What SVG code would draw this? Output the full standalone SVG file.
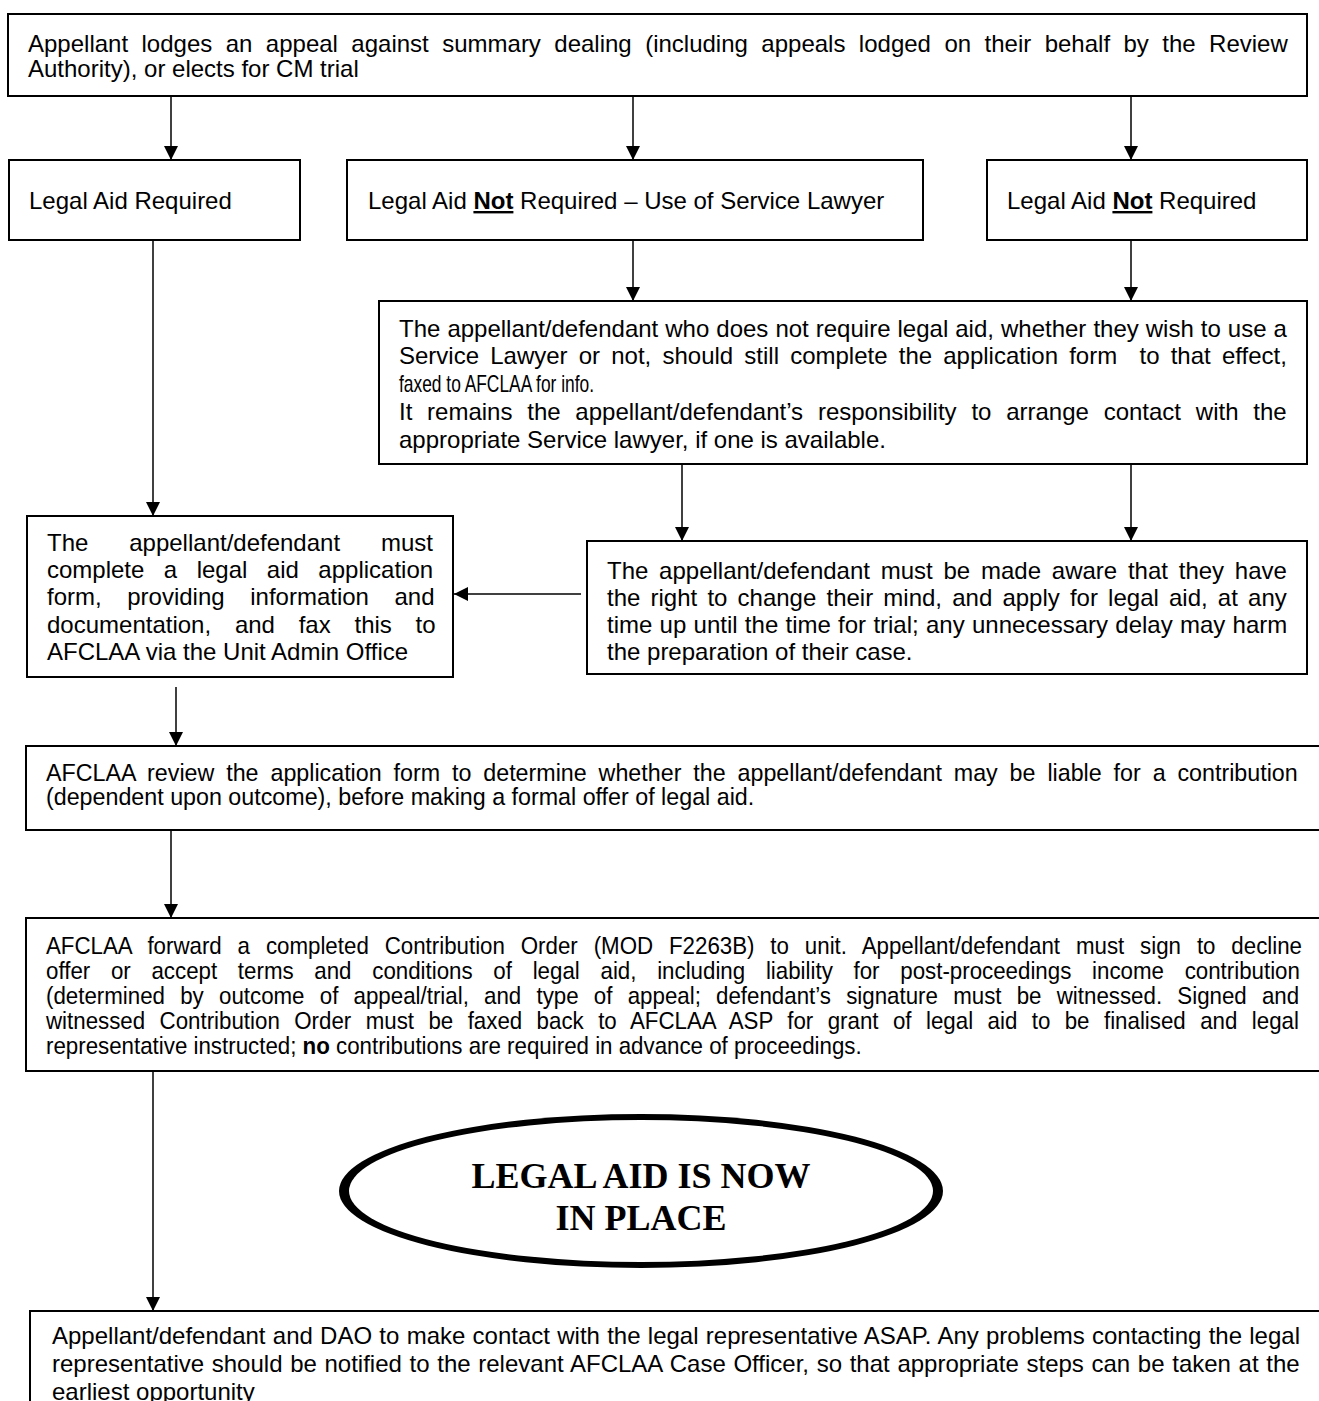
<svg xmlns="http://www.w3.org/2000/svg" width="1319" height="1401" viewBox="0 0 1319 1401">
<defs>
<style>
.box{fill:#fff;stroke:#000;stroke-width:2}
.t{font-family:"Liberation Sans",Arial,sans-serif;font-size:24px;fill:#000}
.c{stroke:#000;stroke-width:1.5;fill:none}
.b{font-weight:bold}
.u{font-weight:bold;text-decoration:underline}
.big{font-family:"Liberation Serif","Times New Roman",serif;font-size:36px;font-weight:bold;fill:#000}
</style>
<marker id="ah" markerUnits="userSpaceOnUse" markerWidth="14" markerHeight="14" refX="14" refY="7" orient="auto">
<path d="M0,0 L14,7 L0,14 z" fill="#000"/>
</marker>
</defs>
<rect width="1319" height="1401" fill="#fff"/>

<g id="connectors">
<line class="c" x1="171" y1="96" x2="171" y2="160" marker-end="url(#ah)"/>
<line class="c" x1="633" y1="96" x2="633" y2="160" marker-end="url(#ah)"/>
<line class="c" x1="1131" y1="96" x2="1131" y2="160" marker-end="url(#ah)"/>
<line class="c" x1="153" y1="240" x2="153" y2="516" marker-end="url(#ah)"/>
<line class="c" x1="633" y1="240" x2="633" y2="301" marker-end="url(#ah)"/>
<line class="c" x1="1131" y1="240" x2="1131" y2="301" marker-end="url(#ah)"/>
<line class="c" x1="682" y1="464" x2="682" y2="541" marker-end="url(#ah)"/>
<line class="c" x1="1131" y1="464" x2="1131" y2="541" marker-end="url(#ah)"/>
<line class="c" x1="581" y1="594" x2="454" y2="594" marker-end="url(#ah)"/>
<line class="c" x1="176" y1="687" x2="176" y2="746" marker-end="url(#ah)"/>
<line class="c" x1="171" y1="830" x2="171" y2="918" marker-end="url(#ah)"/>
<line class="c" x1="153" y1="1071" x2="153" y2="1311" marker-end="url(#ah)"/>
</g>

<g id="n-start">
<rect class="box" x="8" y="14" width="1299" height="82"/>
<text class="t" x="28" y="52" word-spacing="6.78">Appellant lodges an appeal against summary dealing (including appeals lodged on their behalf by the Review</text>
<text class="t" x="28" y="77">Authority), or elects for CM trial</text>
</g>

<g id="n-required">
<rect class="box" x="9" y="160" width="291" height="80"/>
<text class="t" x="29" y="209">Legal Aid Required</text>
</g>

<g id="n-service-lawyer">
<rect class="box" x="347" y="160" width="576" height="80"/>
<text class="t" x="368" y="209">Legal Aid <tspan class="u">Not</tspan> Required – Use of Service Lawyer</text>
</g>

<g id="n-not-required">
<rect class="box" x="987" y="160" width="320" height="80"/>
<text class="t" x="1007" y="209">Legal Aid <tspan class="u">Not</tspan> Required</text>
</g>

<g id="n-info">
<rect class="box" x="379" y="301" width="928" height="163"/>
<text class="t" x="399" y="337" word-spacing="0.36">The appellant/defendant who does not require legal aid, whether they wish to use a</text>
<text class="t" x="399" y="364" word-spacing="4.5" xml:space="preserve">Service Lawyer or not, should still complete the application form  to that effect,</text>
<text class="t" x="399" y="392" textLength="195" lengthAdjust="spacingAndGlyphs">faxed to AFCLAA for info.</text>
<text class="t" x="399" y="420" word-spacing="8.1">It remains the appellant/defendant’s responsibility to arrange contact with the</text>
<text class="t" x="399" y="448">appropriate Service lawyer, if one is available.</text>
</g>

<g id="n-apply">
<rect class="box" x="27" y="516" width="426" height="161"/>
<text class="t" x="47" y="551" word-spacing="34.2">The appellant/defendant must</text>
<text class="t" x="47" y="578" word-spacing="12.8">complete a legal aid application</text>
<text class="t" x="47" y="605" word-spacing="18.9">form, providing information and</text>
<text class="t" x="47" y="633" word-spacing="17.1">documentation, and fax this to</text>
<text class="t" x="47" y="660">AFCLAA via the Unit Admin Office</text>
</g>

<g id="n-aware">
<rect class="box" x="587" y="541" width="720" height="133"/>
<text class="t" x="607" y="579" word-spacing="4.1">The appellant/defendant must be made aware that they have</text>
<text class="t" x="607" y="606" word-spacing="3.5">the right to change their mind, and apply for legal aid, at any</text>
<text class="t" x="607" y="633" word-spacing="0.6">time up until the time for trial; any unnecessary delay may harm</text>
<text class="t" x="607" y="660">the preparation of their case.</text>
</g>

<g id="n-review">
<rect class="box" x="26" y="746" width="1310" height="84"/>
<g transform="scale(0.97 1)">
<text class="t" x="47.42" y="781" word-spacing="5.6">AFCLAA review the application form to determine whether the appellant/defendant may be liable for a contribution</text>
<text class="t" x="47.42" y="805">(dependent upon outcome), before making a formal offer of legal aid.</text>
</g>
</g>

<g id="n-forward">
<rect class="box" x="26" y="918" width="1310" height="153"/>
<g transform="scale(0.93 1)">
<text class="t" x="49.46" y="954" word-spacing="10.4">AFCLAA forward a completed Contribution Order (MOD F2263B) to unit. Appellant/defendant must sign to decline</text>
<text class="t" x="49.46" y="979" word-spacing="15.6">offer or accept terms and conditions of legal aid, including liability for post-proceedings income contribution</text>
<text class="t" x="49.46" y="1004" word-spacing="9.7">(determined by outcome of appeal/trial, and type of appeal; defendant’s signature must be witnessed. Signed and</text>
<text class="t" x="49.46" y="1029" word-spacing="8.84">witnessed Contribution Order must be faxed back to AFCLAA ASP for grant of legal aid to be finalised and legal</text>
<text class="t" x="49.46" y="1054">representative instructed; <tspan class="b">no</tspan> contributions are required in advance of proceedings.</text>
</g>
</g>

<g id="n-in-place">
<ellipse cx="641" cy="1191" rx="302" ry="77" fill="#000"/>
<ellipse cx="641" cy="1191" rx="292" ry="71" fill="#fff"/>
<text class="big" x="641" y="1188" text-anchor="middle">LEGAL AID IS NOW</text>
<text class="big" x="641" y="1230" text-anchor="middle">IN PLACE</text>
</g>

<g id="n-contact">
<rect class="box" x="30" y="1311" width="1310" height="120"/>
<text class="t" x="52" y="1344" word-spacing="0.6">Appellant/defendant and DAO to make contact with the legal representative ASAP. Any problems contacting the legal</text>
<text class="t" x="52" y="1372" word-spacing="1.0">representative should be notified to the relevant AFCLAA Case Officer, so that appropriate steps can be taken at the</text>
<text class="t" x="52" y="1400">earliest opportunity</text>
</g>
</svg>
